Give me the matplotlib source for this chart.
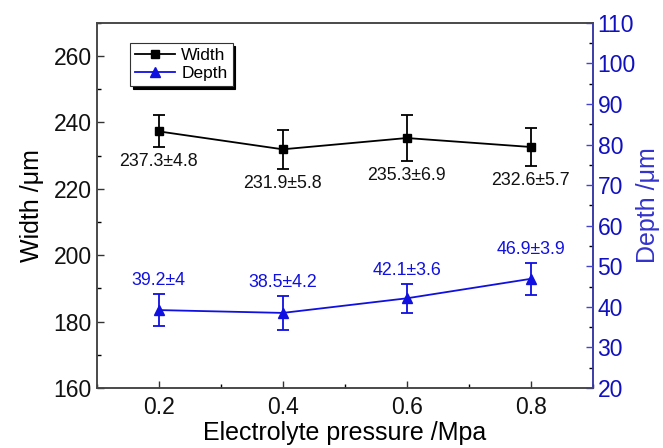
import matplotlib
matplotlib.use("Agg")
import matplotlib.pyplot as plt
from matplotlib.ticker import MultipleLocator
from matplotlib.lines import Line2D

plt.rcParams['font.family'] = ['Liberation Sans', 'DejaVu Sans']

pressure = [0.2, 0.4, 0.6, 0.8]
width = [237.3, 231.9, 235.3, 232.6]
width_err = [4.8, 5.8, 6.9, 5.7]
depth = [39.2, 38.5, 42.1, 46.9]
depth_err = [4.0, 4.2, 3.6, 3.9]
width_labels = ["237.3±4.8", "231.9±5.8", "235.3±6.9", "232.6±5.7"]
depth_labels = ["39.2±4", "38.5±4.2", "42.1±3.6", "46.9±3.9"]

blue = '#1010e0'
fig = plt.figure(figsize=(6.63, 4.48), dpi=100)
ax = fig.add_axes([0.146, 0.134, 0.748, 0.815])
ax2 = ax.twinx()

ax.errorbar(pressure, width, yerr=width_err, color='black', marker='s', ms=6,
            lw=1.3, capsize=4.5, elinewidth=1.3, capthick=1.3)
ax2.errorbar(pressure, depth, yerr=depth_err, color=blue, marker='^', ms=7,
             lw=1.3, capsize=4.5, elinewidth=1.3, capthick=1.3)

for x, y, e, t in zip(pressure, width, width_err, width_labels):
    ax.annotate(t, (x, y - e), xytext=(0, -10.5), textcoords='offset points',
                ha='center', va='center', fontsize=12.8, color='#111111')
for x, y, e, t in zip(pressure, depth, depth_err, depth_labels):
    ax2.annotate(t, (x, y + e), xytext=(0, 9.5), textcoords='offset points',
                 ha='center', va='center', fontsize=12.8, color=blue)

ax.set_xlim(0.1, 0.9)
ax.set_ylim(160, 270)
ax2.set_ylim(20, 110)
ax.set_xticks([0.2, 0.4, 0.6, 0.8])
ax.set_xticklabels(['0.2', '0.4', '0.6', '0.8'])
ax.xaxis.set_minor_locator(MultipleLocator(0.1))
ax.yaxis.set_major_locator(MultipleLocator(20))
ax.yaxis.set_minor_locator(MultipleLocator(10))
ax2.yaxis.set_major_locator(MultipleLocator(10))
ax2.yaxis.set_minor_locator(MultipleLocator(5))

for a in (ax, ax2):
    a.tick_params(which='both', direction='in', labelsize=16.5)
    a.tick_params(which='major', length=5, width=1)
    a.tick_params(which='minor', length=3, width=1)
ax.tick_params(axis='both', colors='#333333', labelcolor='#111111')
ax.tick_params(axis='x', pad=6)
ax2.tick_params(axis='y', colors='#4444cc', labelcolor='#1010c0')
ax2.spines['right'].set_color('#4444cc')
for s in ['left', 'bottom', 'top']:
    ax.spines[s].set_color('#444444')
    ax2.spines[s].set_color('#444444')
for a in (ax, ax2):
    for s in a.spines.values():
        s.set_linewidth(1.1)

ax.set_xlabel('Electrolyte pressure /Mpa', fontsize=18, labelpad=1)
ax.set_ylabel('Width /μm', fontsize=18, labelpad=7)
ax2.set_ylabel('Depth /μm', fontsize=18, color='#3333cc', labelpad=0)

handles = [Line2D([], [], color='black', marker='s', ms=5.5, lw=1.3),
           Line2D([], [], color=blue, marker='^', ms=6.5, lw=1.3)]
leg = ax.legend(handles=handles, labels=['Width', 'Depth'], loc='upper left',
                bbox_to_anchor=(0.067, 0.945), fontsize=12.5, frameon=True,
                fancybox=False, shadow={'color': 'black', 'alpha': 1},
                edgecolor='#333333', handlelength=2.3, borderpad=0.3,
                labelspacing=0.15, handletextpad=0.35, borderaxespad=0)
leg.get_frame().set_linewidth(0.8)

fig.savefig('out.png', dpi=100)
